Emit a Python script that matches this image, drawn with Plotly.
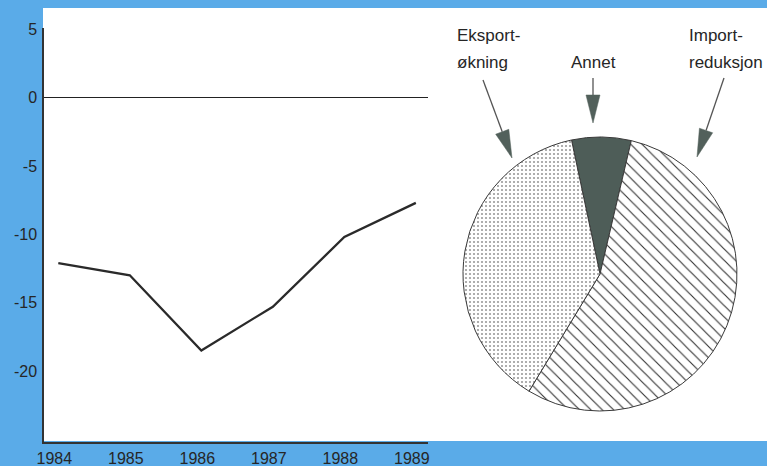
import plotly.graph_objects as go

years = [1984, 1985, 1986, 1987, 1988, 1989]
balance = [-12.1, -13.0, -18.5, -15.3, -10.2, -7.7]
ytick_vals = [5, 0, -5, -10, -15, -20]
ytick_text = ["5", "0", "-5", "-10", "-15", "-20"]

pie_labels = ["Annet", "Import-reduksjon", "Eksport-økning"]
pie_values = [7, 55, 38]

W, H = 767, 466
ML, MR, MT, MB = 44, 0, 28, 24
PW, PH = W - ML - MR, H - MT - MB

def px(x):
    return (x - ML) / PW

def py(y):
    return (H - MB - y) / PH

BLUE = "#5aabe8"
INK = "#262626"
FONT = "Liberation Sans, Arial, sans-serif"
DARK = "#4e5d58"

fig = go.Figure()

fig.add_trace(go.Scatter(
    x=years, y=balance, mode="lines",
    line=dict(color="#2a2a2a", width=2.3),
    hoverinfo="skip", showlegend=False,
))

fig.add_trace(go.Pie(
    labels=pie_labels, values=pie_values,
    sort=False, direction="clockwise", rotation=-12,
    textinfo="none", hoverinfo="label+percent", showlegend=False,
    domain=dict(x=[px(463), px(737)], y=[py(411), py(137)]),
    marker=dict(
        colors=[DARK, "#ffffff", "#ffffff"],
        line=dict(color="#3a3a3a", width=1),
        pattern=dict(
            shape=["", "\\", "."],
            fgcolor=[DARK, "#333333", "#9a9a9a"],
            bgcolor=[DARK, "#ffffff", "#ffffff"],
            size=[8, 8, 4],
            solidity=[0.5, 0.14, 0.22],
            fillmode="replace",
        ),
    ),
))

shapes = [dict(type="rect", xref="paper", yref="paper",
               x0=px(43), x1=px(767), y0=py(441), y1=py(8),
               fillcolor="white", line=dict(width=0), layer="below")]

# arrows: (tail, tip) in pixels; head drawn as narrow filled triangle
HEAD_LEN, HEAD_HALF = 28, 7
for (tx, ty), (hx, hy) in [((483, 80), (512, 158)), ((593, 78), (593, 123)), ((724, 78), (697, 157))]:
    dx, dy = hx - tx, hy - ty
    L = (dx * dx + dy * dy) ** 0.5
    ux, uy = dx / L, dy / L
    bx, by = hx - ux * HEAD_LEN, hy - uy * HEAD_LEN
    nx, ny = -uy, ux
    shapes.append(dict(type="line", xref="paper", yref="paper",
                       x0=px(tx), y0=py(ty), x1=px(bx), y1=py(by),
                       line=dict(color="#555555", width=1.3)))
    p1 = (bx + nx * HEAD_HALF, by + ny * HEAD_HALF)
    p2 = (bx - nx * HEAD_HALF, by - ny * HEAD_HALF)
    path = "M {:.5f},{:.5f} L {:.5f},{:.5f} L {:.5f},{:.5f} Z".format(
        px(p1[0]), py(p1[1]), px(hx), py(hy), px(p2[0]), py(p2[1]))
    shapes.append(dict(type="path", xref="paper", yref="paper", path=path,
                       fillcolor="#52605b", line=dict(color="#52605b", width=0.5)))

annotations = []
for text, x, y, anchor in [
    ("Eksport-", 455, 36, "left"), ("økning", 455, 62, "left"),
    ("Annet", 593, 62, "center"),
    ("Import-", 687, 36, "left"), ("reduksjon", 687, 62, "left"),
]:
    annotations.append(dict(
        xref="paper", yref="paper", x=px(x), y=py(y), text=text,
        showarrow=False, xanchor=anchor, yanchor="middle",
        font=dict(family=FONT, size=17, color=INK),
    ))

fig.update_layout(
    width=W, height=H, autosize=False,
    margin=dict(l=ML, r=MR, t=MT, b=MB, autoexpand=False),
    paper_bgcolor=BLUE, plot_bgcolor="rgba(0,0,0,0)",
    shapes=shapes, annotations=annotations,
    font=dict(family=FONT, size=16, color=INK),
    xaxis=dict(
        domain=[0, px(428)], range=[1983.80, 1989.17], automargin=False,
        tickmode="array", tickvals=years, ticktext=[str(y) for y in years],
        showgrid=False, zeroline=False,
        showline=True, linecolor="#333333", linewidth=1.5,
        ticks="outside", ticklen=1, tickcolor="rgba(0,0,0,0)",
        ticklabelshift=-4,
        tickfont=dict(size=16),
    ),
    yaxis=dict(
        range=[-25.2, 5.1], automargin=False,
        tickmode="array", tickvals=ytick_vals, ticktext=ytick_text,
        showgrid=False, zeroline=True, zerolinecolor="#222222", zerolinewidth=1.2,
        showline=True, linecolor="#333333", linewidth=1.5,
        ticks="outside", ticklen=2, tickcolor="rgba(0,0,0,0)",
        tickfont=dict(size=16),
    ),
)

fig.write_html(
    "out.html",
    config={"displayModeBar": False, "responsive": False},
    post_script="document.body.style.margin='0';document.body.style.overflow='hidden';",
)
